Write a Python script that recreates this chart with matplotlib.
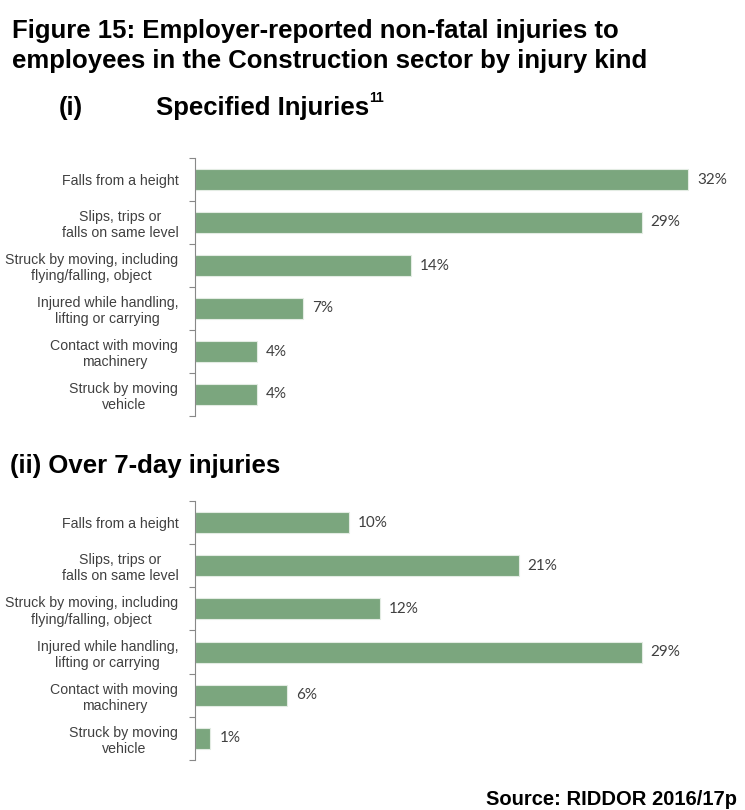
"""
Figure 15: construction sector non-fatal injuries by kind (RIDDOR 2016/17p).
"""

import matplotlib
matplotlib.use("Agg")
import matplotlib.pyplot as plt
from matplotlib.ticker import FixedLocator

categories = [
    "Falls from a height",
    "Slips, trips or\nfalls on same level",
    "Struck by moving, including\nflying/falling, object",
    "Injured while handling,\nlifting or carrying",
    "Contact with moving\nmachinery",
    "Struck by moving\nvehicle",
]
specified_pct = [32, 29, 14, 7, 4, 4]
over7day_pct = [10, 21, 12, 29, 6, 1]

W, H = 745, 810
BAR = "#7ba67e"
TXT = "#404040"
HEAD = ["Liberation Sans", "DejaVu Sans"]

fig = plt.figure(figsize=(W / 100, H / 100), dpi=100)


def px(x, y):
    # pixel position (top-left origin) -> figure fraction
    return x / W, 1 - y / H


def draw_panel(rect_px, values):
    x0, top, bottom = rect_px
    ax = fig.add_axes([x0 / W, 1 - bottom / H, (W - x0) / W, (bottom - top) / H])
    pos = list(range(len(categories)))
    ax.barh(pos, values, height=0.49, color=BAR, edgecolor="#e3ece3", linewidth=0.8)
    for p, v in zip(pos, values):
        ax.annotate(f"{v}%", (v, p), xytext=(9, 0), textcoords="offset pixels",
                    va="center", ha="left", fontsize=11, color=TXT,
                    family=["Lato", "DejaVu Sans"])
    ax.set_xlim(0, 35.7)
    ax.set_ylim(len(categories) - 0.5, -0.5)
    ax.set_yticks(pos)
    ax.set_yticklabels(categories, fontsize=10.2, color=TXT,
                       family=["Liberation Sans", "DejaVu Sans"])
    for lab in ax.get_yticklabels():
        lab.set_multialignment("center")
    ax.yaxis.set_minor_locator(FixedLocator([i - 0.5 for i in range(len(categories) + 1)]))
    ax.tick_params(axis="y", which="major", length=0, pad=12)
    ax.tick_params(axis="y", which="minor", length=4, width=0.8, color="#888888")
    ax.set_xticks([])
    for side in ("top", "right", "bottom"):
        ax.spines[side].set_visible(False)
    ax.spines["left"].set_color("#888888")
    ax.spines["left"].set_linewidth(0.8)
    return ax


draw_panel((195, 158, 416), specified_pct)
draw_panel((195, 501, 760), over7day_pct)

fig.text(*px(12, 38), "Figure 15: Employer-reported non-fatal injuries to",
         fontsize=18.5, fontweight="bold", family=HEAD, va="baseline")
fig.text(*px(12, 68), "employees in the Construction sector by injury kind",
         fontsize=18.5, fontweight="bold", family=HEAD, va="baseline")
fig.text(*px(59, 115), "(i)", fontsize=18.5, fontweight="bold", family=HEAD, va="baseline")
fig.text(*px(156, 115), "Specified Injuries", fontsize=18.5, fontweight="bold",
         family=HEAD, va="baseline")
fig.text(*px(369, 102), "11", fontsize=10, fontweight="bold", family=HEAD, va="baseline")
fig.text(*px(10, 473), "(ii) Over 7-day injuries", fontsize=18.5, fontweight="bold",
         family=HEAD, va="baseline")
fig.text(*px(737, 805), "Source: RIDDOR 2016/17p", fontsize=14.5, fontweight="bold",
         family=HEAD, va="baseline", ha="right")

fig.savefig("out.png", dpi=100)
